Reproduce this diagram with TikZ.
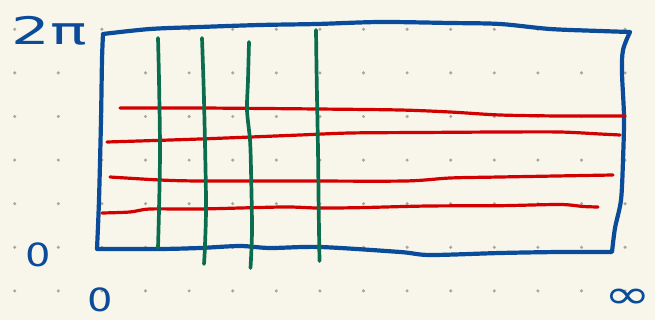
\documentclass[tikz,border=0pt]{standalone}
\usepackage{fontspec}
\setmainfont{DejaVu Sans}
\definecolor{bg}{HTML}{F8F6EB}
\definecolor{ink}{HTML}{0B4C9A}
\definecolor{grn}{HTML}{0A6E4E}
\definecolor{rd}{HTML}{D20000}
\definecolor{dotc}{HTML}{A8A69E}
\tikzset{
  frame/.style={draw=ink, line width=4.2pt, line cap=round, line join=round},
  vline/.style={draw=grn, line width=3.7pt, line cap=round},
  hline/.style={draw=rd, line width=3.2pt, line cap=round},
  lbl/.style={text=ink, inner sep=0pt, font=\fontsize{32}{32}\selectfont},
  griddot/.style={fill=dotc},
}
\begin{document}
\begin{tikzpicture}[x=1pt,y=-1pt]
\fill[bg] (0,0) rectangle (655,320);
\useasboundingbox (0,0) rectangle (655,320);
% dot grid
\foreach \i in {0,...,14}
  \foreach \j in {0,...,6}
    \fill[griddot] ({14.7+\i*43.6},{29.3+\j*43.6}) circle (1.7);
% frame
\draw[frame]
  plot[smooth, tension=0.5] coordinates {(103,34) (150,29) (200,27) (260,25) (317,24) (380,22) (450,23) (500,24) (550,29) (600,31) (630,32)}
  -- plot[smooth, tension=0.5] coordinates {(630,32) (623,50) (622,73) (624,117) (623,160) (621,200) (615,228) (612,252)}
  -- plot[smooth, tension=0.5] coordinates {(612,252) (560,252) (500,253) (430,255) (400,252) (320,247) (270,248) (240,246) (200,248) (160,249) (97,249)}
  -- plot[smooth, tension=0.5] coordinates {(97,249) (99,200) (101,120) (102,60) (103,34)};
% red horizontal lines
\draw[hline] plot[smooth, tension=0.5] coordinates {(120,108) (200,108) (317,109) (400,110) (450,112) (500,115) (560,116) (625,116)};
\draw[hline] plot[smooth, tension=0.5] coordinates {(107,142) (200,139) (300,135) (350,133) (420,132.5) (500,132) (560,132) (600,134) (620,135)};
\draw[hline] plot[smooth, tension=0.5] coordinates {(110,177) (160,180) (200,181) (300,181) (405,181) (450,178) (500,177) (613,175)};
\draw[hline] plot[smooth, tension=0.5] coordinates {(102,213) (130,212) (150,209) (200,209) (283,207) (317,208) (357,207.7) (428,206) (500,205.7) (560,204.5) (583,206.5) (598,207)};
% green vertical lines
\draw[vline] plot[smooth, tension=0.5] coordinates {(158,38) (159,80) (160,150) (159,210) (158,248)};
\draw[vline] plot[smooth, tension=0.5] coordinates {(202,38) (204,100) (206,200) (205,245) (204,264)};
\draw[vline] plot[smooth, tension=0.5] coordinates {(249,42) (248,80) (247,110) (250,140) (251,170) (252,230) (250.5,268)};
\draw[vline] plot[smooth, tension=0.5] coordinates {(316,30) (316.7,80) (318,150) (318.7,210) (319.5,261)};
% labels
\node[lbl, xscale=1.6, font=\fontsize{38}{38}\selectfont] (twopi) at (49,31) {2π};
\node[lbl, xscale=1.25] (zeroy) at (38,255) {0};
\node[lbl, xscale=1.25] (zerox) at (100,300) {0};
\node[lbl, xscale=1.4, font=\fontsize{40}{40}\selectfont] (inf) at (628,299) {∞};
\end{tikzpicture}
\end{document}
